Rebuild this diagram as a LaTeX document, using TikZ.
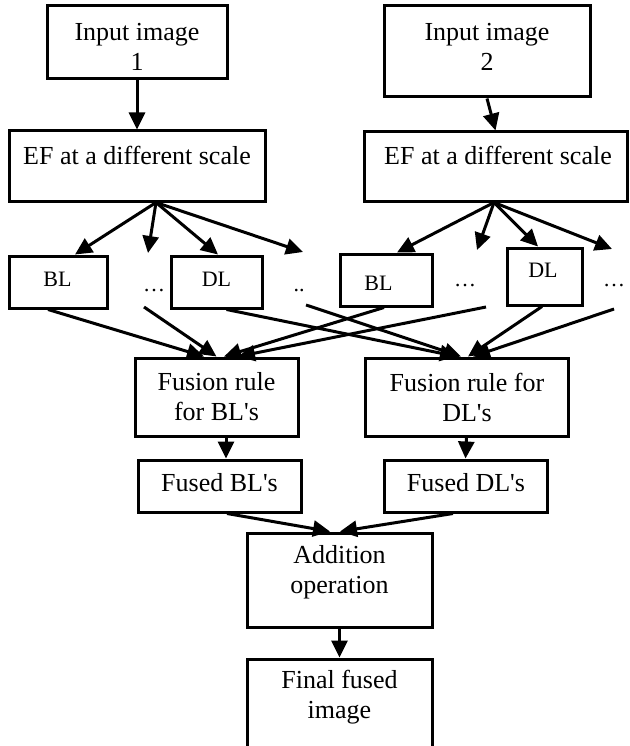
\documentclass[tikz,border=0pt]{standalone}
\usepackage{fontspec}
\setmainfont{Liberation Serif}[Ligatures=TeXOff]
\usetikzlibrary{arrows.meta,calc}
\begin{document}
\begin{tikzpicture}[x=1pt,y=-1pt,
  box/.style={draw, line width=3pt, inner sep=0pt},
  txt/.style={font=\fontsize{26}{30}\selectfont, align=center, inner sep=0pt},
  small/.style={font=\fontsize{22}{26}\selectfont, inner sep=0pt},
  arr/.style={line width=3pt, -{Triangle[length=17pt,width=16pt]}}
]
\useasboundingbox (0,0) rectangle (629,746);
\clip (0,0) rectangle (629,746);
% boxes
\node[box, minimum width=180pt, minimum height=73pt] (in1) at (137,42.5) {};
\node[box, minimum width=206pt, minimum height=91pt] (in2) at (487,51.5) {};
\node[box, minimum width=256pt, minimum height=70pt] (ef1) at (137,166) {};
\node[box, minimum width=263pt, minimum height=69pt] (ef2) at (495.5,166.5) {};
\node[box, minimum width=98pt, minimum height=52pt] (bl1) at (58,282) {};
\node[box, minimum width=91pt, minimum height=52pt] (dl1) at (216.5,282) {};
\node[box, minimum width=92pt, minimum height=52pt] (bl2) at (386,280) {};
\node[box, minimum width=75pt, minimum height=57pt] (dl2) at (544.5,276.5) {};
\node[box, minimum width=163pt, minimum height=78pt] (fr1) at (216.5,397) {};
\node[box, minimum width=203pt, minimum height=78pt] (fr2) at (466.5,397) {};
\node[box, minimum width=163pt, minimum height=52pt] (fb) at (219.5,486) {};
\node[box, minimum width=163pt, minimum height=52pt] (fd) at (465.5,486) {};
\node[box, minimum width=185pt, minimum height=94pt] (add) at (339.5,580) {};
\node[box, minimum width=185pt, minimum height=111pt] (fin) at (339.5,714.5) {};
% texts
\node[txt] (in1t) at (137,47) {Input image\\1};
\node[txt] (in2t) at (487,47) {Input image\\2};
\node[txt] (ef1t) at (137,155) {EF at a different scale};
\node[txt] (ef2t) at (498,155) {EF at a different scale};
\node[small] (bl1t) at (57.5,279.5) {BL};
\node[small] (dl1t) at (216.5,279.5) {DL};
\node[small] (bl2t) at (378.5,283.5) {BL};
\node[small] (dl2t) at (543,270.5) {DL};
\node[small, anchor=base] (d1) at (154,291) {…};
\node[small, anchor=base] (d2) at (299,291) {..};
\node[small, anchor=base] (d3) at (465,286) {…};
\node[small, anchor=base] (d4) at (614,286) {…};
\node[txt] (fr1t) at (216.5,397) {Fusion rule\\for BL's};
\node[txt] (fr2t) at (467,397) {Fusion rule for\\DL's};
\node[txt] (fbt) at (219.5,483) {Fused BL's};
\node[txt] (fdt) at (466,483) {Fused DL's};
\node[txt] (addt) at (339.5,572) {Addition\\operation};
\node[txt] (fint) at (339.5,697) {Final fused\\image};
% coordinates
\coordinate (f1) at ($(ef1.south)+(19,0)$);
\coordinate (f2) at ($(ef2.south)+(-1.5,0)$);
\coordinate (t1) at (148,253);
\coordinate (t2) at (303,252);
\coordinate (t3) at (477,250);
\coordinate (t4) at (612,249);
\coordinate (s1) at (144,307);
\coordinate (s2) at (486,307);
\coordinate (s3) at (306,305);
\coordinate (s4) at (614,309);
% arrows
\draw[arr] (in1) -- (ef1);
\draw[arr] (in2.south) -- (ef2.north);
\draw[arr] (f1) -- ($(bl1.north)+(17,0)$);
\draw[arr] (f1) -- (t1);
\draw[arr] (f1) -- ($(dl1.north)+(1.5,0)$);
\draw[arr] (f1) -- (t2);
\draw[arr] (f2) -- ($(bl2.north)+(11,0)$);
\draw[arr] (f2) -- (t3);
\draw[arr] (f2) -- ($(dl2.north)+(-6.5,0)$);
\draw[arr] (f2) -- (t4);
\draw[arr] ($(bl1.south)+(-10,0)$) -- ($(fr1.north)+(-12.5,0)$);
\draw[arr] (s1) -- ($(fr1.north)+(0,0)$);
\draw[arr] ($(bl2.south)+(-2,0)$) -- ($(fr1.north)+(7.5,0)$);
\draw[arr] (s2) -- ($(fr1.north)+(21.5,0)$);
\draw[arr] ($(dl1.south)+(10,0)$) -- ($(fr2.north)+(-9.5,0)$);
\draw[arr] (s3) -- ($(fr2.north)+(-5.5,0)$);
\draw[arr] ($(dl2.south)+(-2.5,0)$) -- ($(fr2.north)+(1.5,0)$);
\draw[arr] (s4) -- ($(fr2.north)+(6.5,0)$);
\draw[arr] ($(fr1.south)+(9.5,0)$) -- ($(fb.north)+(6.5,0)$);
\draw[arr] (fr2.south) -- (fd.north);
\draw[arr] ($(fb.south)+(7.5,0)$) -- ($(add.north)+(-9.5,0)$);
\draw[arr] ($(fd.south)+(-12.5,0)$) -- ($(add.north)+(0.5,0)$);
\draw[arr] (add.south) -- (fin.north);
\end{tikzpicture}
\end{document}
